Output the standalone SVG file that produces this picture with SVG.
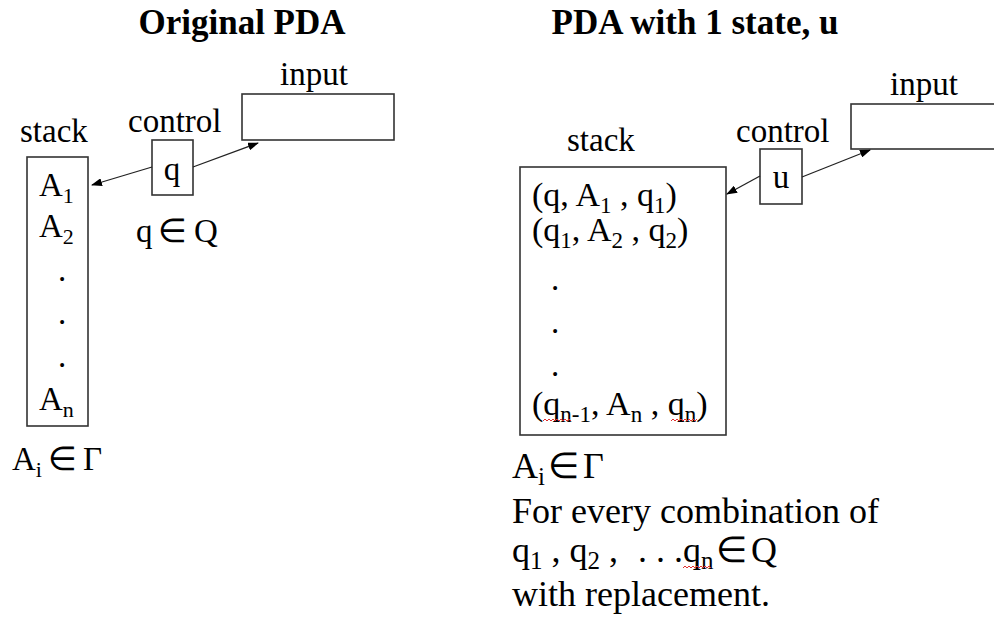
<svg xmlns="http://www.w3.org/2000/svg" width="994" height="617" viewBox="0 0 994 617">
<style>
text{font-family:"Liberation Serif","Times New Roman",serif;font-size:33px;fill:#000}
.title{font-weight:bold;font-size:35px}
.sub{font-size:22px}
.st{font-size:34px}
.st .sub{font-size:23px}
.note{font-size:36px}
.note .sub{font-size:25px}
.box{fill:#fff;stroke:#333;stroke-width:1.6}
.conn{stroke:#222;stroke-width:1.3;fill:none}
.sq{stroke:#e03030;stroke-width:1;fill:none}
</style>
<defs>
<marker id="ah" markerWidth="11" markerHeight="8" refX="10" refY="4" orient="auto" markerUnits="userSpaceOnUse">
<path d="M0,0 L11,4 L0,8 z" fill="#000"/>
</marker>
</defs>
<rect width="994" height="617" fill="#fff"/>

<text class="title" x="242" y="34" text-anchor="middle">Original PDA</text>
<text class="title" x="695" y="34" text-anchor="middle">PDA with 1 state, u</text>

<g id="left-stack">
<text x="20" y="142">stack</text>
<rect class="box" x="27" y="157" width="61" height="269"/>
<text x="39" y="196">A<tspan class="sub" dy="7">1</tspan></text>
<text x="39" y="237">A<tspan class="sub" dy="7">2</tspan></text>
<text x="62" y="281" text-anchor="middle">.</text>
<text x="62" y="324" text-anchor="middle">.</text>
<text x="62" y="367" text-anchor="middle">.</text>
<text x="39" y="410">A<tspan class="sub" dy="7">n</tspan></text>
<text x="12" y="470">A<tspan class="sub" dy="7">i</tspan><tspan x="48" dy="-7">∈</tspan><tspan x="83">Γ</tspan></text>
</g>

<g id="left-control">
<text x="128" y="132">control</text>
<rect class="box" x="152" y="140" width="41" height="55"/>
<text x="172" y="180" text-anchor="middle">q</text>
<text x="136" y="242">q<tspan x="158">∈</tspan><tspan x="194">Q</tspan></text>
</g>

<g id="left-input">
<text x="280" y="85">input</text>
<rect class="box" x="242" y="94" width="152" height="46"/>
</g>

<g id="right-stack">
<text x="567" y="151">stack</text>
<rect class="box" x="520" y="167" width="206" height="268"/>
<text class="st" x="532" y="206">(q, A<tspan class="sub" dy="7">1</tspan><tspan dy="-7"> , q</tspan><tspan class="sub" dy="7">1</tspan><tspan dy="-7">)</tspan></text>
<text class="st" x="532" y="241">(q<tspan class="sub" dy="7">1</tspan><tspan dy="-7">, A</tspan><tspan class="sub" dy="7">2</tspan><tspan dy="-7"> , q</tspan><tspan class="sub" dy="7">2</tspan><tspan dy="-7">)</tspan></text>
<text x="555" y="290" text-anchor="middle">.</text>
<text x="555" y="333" text-anchor="middle">.</text>
<text x="555" y="376" text-anchor="middle">.</text>
<text class="st" x="532" y="415">(q<tspan class="sub" dy="7">n-1</tspan><tspan dy="-7">, A</tspan><tspan class="sub" dy="7">n</tspan><tspan dy="-7"> , q</tspan><tspan class="sub" dy="7">n</tspan><tspan dy="-7">)</tspan></text>
<path class="sq" d="M543,421 l2,-2 l2,2 l2,-2 l2,2 l2,-2 l2,2 l2,-2 l2,2 l2,-2 l2,2 l2,-2 l2,2 l2,-2 l2,2"/>
<path class="sq" d="M671,421 l2,-2 l2,2 l2,-2 l2,2 l2,-2 l2,2 l2,-2 l2,2 l2,-2 l2,2 l2,-2 l2,2 l2,-2"/>
</g>

<g id="right-control">
<text x="736" y="142">control</text>
<rect class="box" x="760" y="149" width="42" height="55"/>
<text x="781" y="188" text-anchor="middle">u</text>
</g>

<g id="right-input">
<text x="890" y="95">input</text>
<rect class="box" x="851" y="104" width="160" height="45"/>
</g>

<g id="right-notes">
<text class="note" x="512" y="478">A<tspan class="sub" dy="7">i</tspan><tspan x="548" dy="-7">∈</tspan><tspan x="583">Γ</tspan></text>
<text class="note" x="512" y="523">For every combination of</text>
<text class="note" x="512" y="562">q<tspan class="sub" dy="7">1</tspan><tspan dy="-7"> , q</tspan><tspan class="sub" dy="7">2</tspan><tspan dy="-7"> ,</tspan><tspan x="638">. . .</tspan><tspan x="683">q</tspan><tspan class="sub" dy="7">n</tspan><tspan x="716" dy="-7">∈</tspan><tspan x="751">Q</tspan></text>
<text class="note" x="512" y="606">with replacement.</text>
<path class="sq" d="M683,568 l2,-2 l2,2 l2,-2 l2,2 l2,-2 l2,2 l2,-2 l2,2 l2,-2 l2,2 l2,-2 l2,2 l2,-2 l2,2"/>
</g>

<g id="connectors">
<line class="conn" x1="152" y1="167" x2="92" y2="185" marker-end="url(#ah)"/>
<line class="conn" x1="193" y1="167" x2="258" y2="143" marker-end="url(#ah)"/>
<line class="conn" x1="760" y1="176" x2="727" y2="194" marker-end="url(#ah)"/>
<line class="conn" x1="802" y1="177" x2="870" y2="150" marker-end="url(#ah)"/>
</g>
</svg>
